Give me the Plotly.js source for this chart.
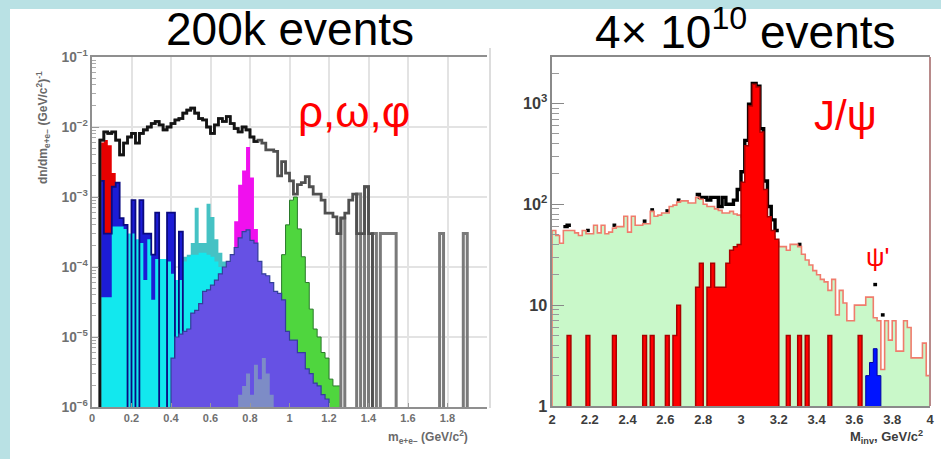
<!DOCTYPE html>
<html>
<head>
<meta charset="utf-8">
<script src="https://cdn.plot.ly/plotly-3.0.1.min.js"></script>
<style>
  html, body { margin: 0; padding: 0; background: #b9e1e4; }
  #chart { width: 941px; height: 459px; }
</style>
</head>
<body>
<div id="chart"></div>
<script>
// ---------- Low-mass e+e- cocktail (left), bins of 0.02 GeV/c^2 ----------
const LOW_BIN = 0.02;

const lowTotalStart = 0.04;
const lowTotal = [6.5e-3, 8.5e-3, 8.1e-3, 8.5e-3, 6.5e-3, 4.0e-3, 5.9e-3, 7.2e-3, 8.1e-3, 5.9e-3,
  8.1e-3, 9.1e-3, 1.0e-2, 1.12e-2, 1.2e-2, 1.07e-2, 9.1e-3, 1.0e-2, 1.12e-2, 1.26e-2,
  1.32e-2, 1.58e-2, 1.74e-2, 1.86e-2, 1.58e-2, 1.32e-2, 1.26e-2, 1.0e-2, 8.1e-3, 1.07e-2,
  1.32e-2, 1.2e-2, 1.41e-2, 1.12e-2, 9.5e-3, 8.5e-3, 1.0e-2, 9.1e-3, 7.2e-3, 6.2e-3,
  6.5e-3, 5.9e-3, 4.7e-3, 4.7e-3, 4.5e-3, 2.0e-3, 3.2e-3, 2.2e-3, 1.7e-3, 1.1e-3,
  1.5e-3, 1.6e-3, 1.95e-3, 1.4e-3, 1.1e-3, 1.1e-3, 9e-4, 5.9e-4, 5.9e-4, 5.2e-4,
  3e-4, 5e-4, 5.9e-4, 9e-4, 1.1e-3, 3e-4, 3e-4, 1.4e-3, 3e-4];
const lowTotalDarkUntil = 0.84;   // the black part of the summed spectrum ends here

// isolated single-entry bins in the high-mass tail
const lowTailStart = 1.24;
const lowTail = [0, 5e-4, 0, 0, 0, 1.1e-3, 0, 1.4e-3, 0, 3e-4, 0, 3e-4, 3e-4, 3e-4, 3e-4,
  0, 0, 0, 0, 0, 0, 0, 0, 0, 0, 0, 3e-4, 0, 0, 0, 0, 0, 3e-4];

const pi0Start = 0.04;
const pi0Dalitz = [6e-3, 6.5e-3, 5.5e-3, 2.2e-3];

const etaStart = 0.04;
const etaDalitz = [1.7e-3, 3e-4, 3e-4, 1.4e-3, 1.6e-3, 5e-4, 4e-4, 0, 9e-4, 0,
  9e-4, 3e-4, 3e-4, 1.5e-4, 6e-4, 0, 0, 6e-4, 6e-4, 0, 3.2e-4];

const convStart = 0.04;
const conversions = [3.7e-5, 3.7e-5, 3.7e-5, 3.8e-4, 3.8e-4, 3.8e-4, 3.5e-4, 3e-4, 3e-4, 2.5e-4,
  2.2e-4, 6.5e-5, 2.5e-4, 3.4e-5, 1.3e-4, 1.3e-4, 1.3e-4, 1.2e-4, 8e-5, 6.5e-5,
  6.5e-5, 1.2e-4, 1.4e-4, 1.5e-4, 1.5e-4, 1.6e-4, 1.6e-4, 1.5e-4, 1.4e-4, 1.2e-4,
  1e-4, 8e-5];

const etaPrimeStart = 0.46;
const etaPrime = [1.4e-4, 1.5e-4, 2.2e-4, 7e-4, 2.2e-4, 2.2e-4, 8e-4, 5.2e-4, 2.5e-4, 1.6e-4, 1.2e-4];

const omegaStart = 0.72;
const omega = [4.5e-4, 1.5e-3, 2.4e-3, 5.2e-3, 1.9e-3, 3.5e-4];

const phiStart = 0.96;
const phi = [1.5e-4, 4e-4, 9e-4, 1e-3, 3.5e-4, 1.4e-4, 6e-5, 2.5e-5, 1.3e-5, 1e-5,
  6e-6, 5e-6, 2.5e-6, 2e-6, 2e-6];

const rhoStart = 0.40;
const rho = [5e-6, 1e-5, 1.1e-5, 1.2e-5, 1.3e-5, 2.2e-5, 2.4e-5, 3e-5, 4.5e-5, 4.7e-5,
  5.5e-5, 6.5e-5, 8e-5, 1e-4, 1.2e-4, 1.5e-4, 1.9e-4, 2.6e-4, 3.2e-4, 3.4e-4,
  2.4e-4, 2.2e-4, 1.2e-4, 8e-5, 7.5e-5, 6e-5, 4.5e-5, 4.2e-5, 3.4e-5, 1.2e-5,
  9e-6, 9e-6, 6e-6, 6e-6, 3.5e-6, 3e-6, 2.2e-6, 2e-6, 1.5e-6, 1.3e-6];

const otherStart = 0.74;
const other = [1.5e-6, 2e-6, 3e-6, 1.5e-6, 4e-6, 2.5e-6, 5e-6, 3e-6, 1.5e-6];

const lowTickVals = [0, 0.2, 0.4, 0.6, 0.8, 1, 1.2, 1.4, 1.6, 1.8];

// ---------- J/psi region (right), bins of 0.02 GeV/c^2 ----------
const HIGH_BIN = 0.02;
const highStart = 2.0;

const background = [55, 49, 41, 55, 55, 55, 52, 49, 55, 51,
  51, 62, 52, 62, 51, 53, 58, 60, 60, 76,
  53, 76, 62, 62, 64, 64, 85, 76, 78, 82,
  82, 95, 98, 105, 108, 108, 103, 103, 117, 112,
  100, 95, 95, 90, 87, 82, 82, 85, 80, 78,
  75, 72, 70, 68, 65, 62, 58, 55, 48, 42,
  38, 38, 35, 40, 40, 38, 32, 28, 25, 22,
  20, 18, 17, 14, 18, 8, 14, 10.5, 7, 7,
  10, 10, 10, 12, 12, 7.5, 7, 2.3, 7, 4.5,
  7, 3.5, 3.5, 7, 6, 3, 3, 3, 4.2, 2];

const measured = [55, 49, 41, 60, 62, 55, 52, 49, 55, 55,
  51, 62, 52, 62, 51, 53, 62, 60, 60, 76,
  53, 76, 62, 62, 68, 64, 88, 76, 78, 82,
  86, 95, 98, 110, 108, 108, 103, 103, 125, 117,
  117, 110, 117, 117, 95, 117, 100, 100, 110, 140,
  210, 430, 980, 1580, 1480, 560, 170, 95, 70, 55,
  38, 38, 33, 40, 40, 40, 32, 24, 25, 22,
  20, 18, 16, 12, 18, 8, 14, 10.5, 7, 6.5,
  10, 10, 9, 10, 12, 16, 7, 8, 7, 4.5,
  7, 3.5, 3.5, 7, 6, 3, 3, 3, 4.2, 2];

const jpsi = [0, 0, 0, 0, 5, 0, 0, 0, 0, 5,
  0, 0, 0, 0, 0, 0, 5, 0, 0, 0,
  0, 0, 0, 0, 5, 0, 5, 0, 0, 0,
  5, 0, 5, 10, 0, 0, 0, 0, 15, 26,
  0, 15, 26, 15, 15, 15, 26, 35, 38, 40,
  165, 380, 940, 1550, 1450, 520, 140, 75, 55, 45,
  0, 0, 5, 0, 0, 5, 0, 5, 0, 0,
  0, 0, 0, 5, 0, 0, 0, 0, 0, 0,
  0, 5];

const psiPrimeStart = 3.66;
const psiPrime = [2, 2.7, 3.7, 2];

const highTickVals = [2, 2.2, 2.4, 2.6, 2.8, 3, 3.2, 3.4, 3.6, 3.8, 4];

// ---------- helpers ----------
// Histogram outline as a step path; empty bins fall to a level below the axis.
function stepXY(start, width, counts, floor, closeRight = true) {
  const x = [start], y = [floor];
  counts.forEach((c, i) => { x.push(start + i * width); y.push(c > 0 ? c : floor); });
  x.push(start + counts.length * width);
  y.push(closeRight ? floor : (counts[counts.length - 1] || floor));
  return { x, y };
}

// Step path drawn only over runs of bins where the data sit above the fitted background.
function excessXY(start, width, data, base) {
  const x = [], y = [];
  let open = false;
  data.forEach((d, i) => {
    const above = d > base[i] * 1.015;
    if (above) {
      x.push(start + i * width); y.push(d);
      open = true;
    } else if (open) {
      x.push(start + i * width); y.push(data[i - 1]);
      x.push(null); y.push(null);
      open = false;
    }
  });
  if (open) { x.push(start + data.length * width); y.push(data[data.length - 1]); }
  return { x, y };
}

function filled(xy, color, ax, lineColor, lineWidth) {
  return {
    type: 'scatter', mode: 'lines', x: xy.x, y: xy.y,
    xaxis: ax[0], yaxis: ax[1],
    fill: 'tozeroy', fillcolor: color,
    line: { shape: 'hv', color: lineColor || color, width: lineWidth || 0 },
    hoverinfo: 'skip'
  };
}

function outline(xy, color, width, ax) {
  return {
    type: 'scatter', mode: 'lines', x: xy.x, y: xy.y,
    xaxis: ax[0], yaxis: ax[1], connectgaps: false,
    line: { shape: 'hv', color: color, width: width },
    hoverinfo: 'skip'
  };
}

const L = ['x', 'y'], R = ['x2', 'y2'];
const LF = 1e-9, RF = 1e-2;

const darkCount = Math.round((lowTotalDarkUntil - lowTotalStart) / LOW_BIN);

const traces = [
  // left panel, back to front
  filled(stepXY(pi0Start, LOW_BIN, pi0Dalitz, LF), '#e60000', L),
  filled(stepXY(etaStart, LOW_BIN, etaDalitz, LF), '#1c1cd6', L),
  filled(stepXY(etaPrimeStart, LOW_BIN, etaPrime, LF), '#45c2c4', L),
  filled(stepXY(convStart, LOW_BIN, conversions, LF), '#12e8ee', L),
  outline(stepXY(etaStart, LOW_BIN, etaDalitz, LF), '#0a0a80', 1.8, L),
  filled(stepXY(omegaStart, LOW_BIN, omega, LF), '#f010ee', L),
  filled(stepXY(phiStart, LOW_BIN, phi, LF), '#4fd63e', L, '#2a7a2a', 1),
  filled(stepXY(rhoStart, LOW_BIN, rho, LF), '#6651e4', L, '#33409a', 1.2),
  filled(stepXY(otherStart, LOW_BIN, other, LF), '#7d8cc6', L),
  outline(stepXY(lowTailStart, LOW_BIN, lowTail, LF), '#7a7a7a', 3, L),
  outline(stepXY(lowTotalStart, LOW_BIN, lowTotal, LF), '#505050', 2.8, L),
  outline(stepXY(lowTotalStart, LOW_BIN, lowTotal.slice(0, darkCount), LF, false), '#141414', 2.6, L),

  // right panel, back to front
  filled(stepXY(highStart, HIGH_BIN, background, RF), '#c9f8c9', R),
  outline(excessXY(highStart, HIGH_BIN, measured, background), '#000000', 3.4, R),
  outline(stepXY(highStart, HIGH_BIN, background, RF), '#f07c6c', 1.6, R),
  filled(stepXY(highStart, HIGH_BIN, jpsi, RF), '#ff0000', R, '#a80000', 1.5),
  filled(stepXY(psiPrimeStart, HIGH_BIN, psiPrime, RF), '#0014ff', R, '#0000a0', 1)
];

const W = 941, H = 459;
const px = v => v / W;
const py = v => (H - v) / H;

const lowTickFont = { family: 'Liberation Sans, Arial, sans-serif', size: 11, color: '#707070', weight: 'bold' };
const highTickFont = { family: 'Liberation Sans, Arial, sans-serif', size: 13, color: '#3c3c3c', weight: 'bold' };

const layout = {
  width: W, height: H,
  margin: { l: 0, r: 0, t: 0, b: 0 },
  paper_bgcolor: '#b9e1e4',
  plot_bgcolor: '#ffffff',
  showlegend: false,
  font: { family: 'Liberation Sans, Arial, sans-serif' },
  xaxis: {
    domain: [px(92), px(487)], range: [0, 2], anchor: 'y',
    tickmode: 'array', tickvals: lowTickVals,
    showgrid: true, gridcolor: '#e3e3e3', gridwidth: 2, zeroline: false,
    showline: true, linecolor: '#8f8f8f', linewidth: 2, mirror: true,
    ticks: 'inside', ticklen: 4, tickcolor: '#999',
    tickfont: lowTickFont
  },
  yaxis: {
    domain: [52 / H, 402 / H], type: 'log', range: [-6, -1], anchor: 'x',
    dtick: 1, exponentformat: 'power',
    showgrid: true, gridcolor: '#e3e3e3', gridwidth: 2, zeroline: false,
    showline: true, linecolor: '#8f8f8f', linewidth: 2,
    ticks: 'inside', ticklen: 7, tickcolor: '#999',
    minor: { ticks: 'inside', ticklen: 4, tickcolor: '#aaa', dtick: 'D1', showgrid: false },
    tickfont: lowTickFont
  },
  xaxis2: {
    domain: [px(552), px(930)], range: [2, 4], anchor: 'y2',
    tickmode: 'array', tickvals: highTickVals,
    showgrid: false, zeroline: false,
    showline: true, linecolor: '#8a8a8a', linewidth: 2, mirror: true,
    ticks: '', tickfont: highTickFont
  },
  yaxis2: {
    domain: [53 / H, 402 / H], type: 'log', range: [0, 3.46], anchor: 'x2',
    dtick: 1, exponentformat: 'power',
    showgrid: false, zeroline: false,
    showline: true, linecolor: '#8a8a8a', linewidth: 2,
    ticks: 'inside', ticklen: 12, tickcolor: '#888',
    minor: { ticks: 'inside', ticklen: 7, tickcolor: '#999', dtick: 'D1', showgrid: false },
    tickfont: highTickFont
  },
  shapes: [
    { type: 'rect', xref: 'paper', yref: 'paper', x0: px(10), x1: 1, y0: 0, y1: py(9),
      fillcolor: '#ffffff', line: { width: 0 }, layer: 'below' },
    { type: 'line', xref: 'paper', yref: 'paper', x0: px(490), x1: px(490), y0: py(408), y1: py(48),
      line: { color: '#d2d2d2', width: 1.5 } },
    { type: 'line', xref: 'x2 domain', yref: 'y2 domain', x0: 1, x1: 1, y0: 0, y1: 1,
      line: { color: '#b88a8a', width: 2 } }
  ],
  annotations: [
    { text: '200k events', xref: 'paper', yref: 'paper', x: px(290), y: py(29),
      xanchor: 'center', yanchor: 'middle', showarrow: false,
      font: { size: 46, color: '#000' } },
    { text: '4\u00d7 10<sup>10</sup> events', xref: 'paper', yref: 'paper', x: px(745), y: py(29),
      xanchor: 'center', yanchor: 'middle', showarrow: false,
      font: { size: 46, color: '#000' } },
    { text: '\u03c1,\u03c9,\u03c6', xref: 'paper', yref: 'paper', x: px(354), y: py(111),
      xanchor: 'center', yanchor: 'middle', showarrow: false,
      font: { size: 44, color: '#ff0000' } },
    { text: 'J/\u03c8', xref: 'paper', yref: 'paper', x: px(845), y: py(116),
      xanchor: 'center', yanchor: 'middle', showarrow: false,
      font: { size: 42, color: '#ff0000' } },
    { text: "\u03c8'", xref: 'paper', yref: 'paper', x: px(878), y: py(257),
      xanchor: 'center', yanchor: 'middle', showarrow: false,
      font: { size: 26, color: '#ff0000' } },
    { text: 'dn/dm<sub>e+e\u2212</sub> (GeV/c<sup>2</sup>)<sup>-1</sup>', xref: 'paper', yref: 'paper',
      x: px(43), y: py(128), textangle: -90,
      xanchor: 'center', yanchor: 'middle', showarrow: false,
      font: { size: 12, color: '#6a6a6a', weight: 'bold' } },
    { text: 'm<sub>e+e\u2212</sub> (GeV/c<sup>2</sup>)', xref: 'paper', yref: 'paper',
      x: px(428), y: py(437),
      xanchor: 'center', yanchor: 'middle', showarrow: false,
      font: { size: 12, color: '#6a6a6a', weight: 'bold' } },
    { text: 'M<sub>inv</sub>, GeV/c<sup>2</sup>', xref: 'paper', yref: 'paper',
      x: px(886), y: py(437),
      xanchor: 'center', yanchor: 'middle', showarrow: false,
      font: { size: 13, color: '#3c3c3c', weight: 'bold' } }
  ]
};

Plotly.newPlot('chart', traces, layout, { staticPlot: true, displayModeBar: false });
</script>
</body>
</html>
